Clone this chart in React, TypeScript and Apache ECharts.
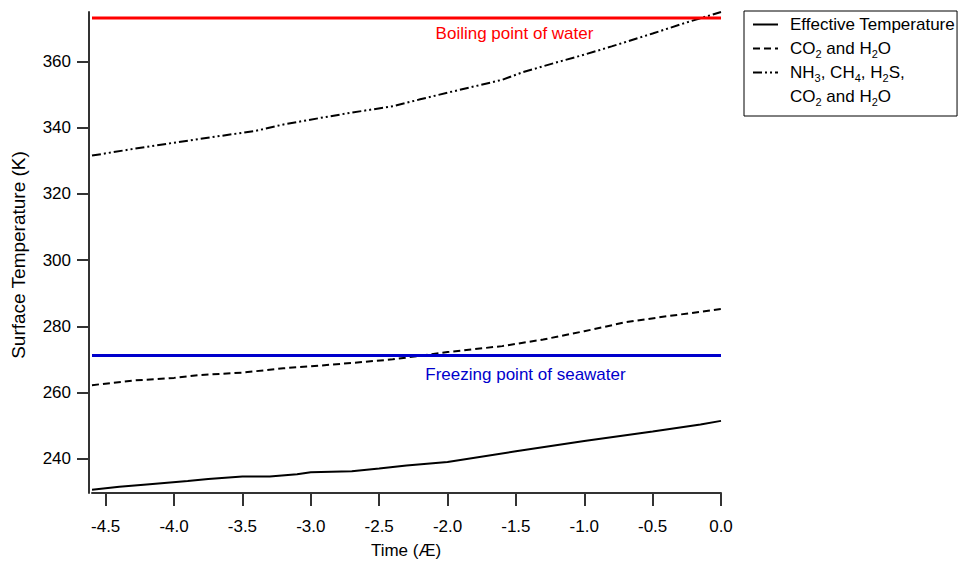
import React, { useEffect, useRef } from 'react';
import * as echarts from 'echarts';

const FONT = "'Liberation Sans', Arial, Helvetica, sans-serif";

// Axis ticks
const xTicks = [-4.5, -4.0, -3.5, -3.0, -2.5, -2.0, -1.5, -1.0, -0.5, 0.0];
const yTicks = [240, 260, 280, 300, 320, 340, 360];

// Effective temperature (solid)
const timeEff = [-4.6, -4.4, -4.2, -3.9, -3.75, -3.5, -3.3, -3.1, -3.0, -2.7, -2.5, -2.3, -2.0, -1.5, -1.0, -0.5, -0.15, 0.0];
const tempEff = [230.6, 231.5, 232.2, 233.2, 233.8, 234.6, 234.6, 235.3, 235.9, 236.2, 237.0, 237.9, 239.0, 242.2, 245.3, 248.2, 250.3, 251.4];

// CO2 and H2O (dashed)
const timeCO2 = [-4.6, -4.3, -4.0, -3.8, -3.5, -3.2, -3.0, -2.7, -2.4, -2.0, -1.6, -1.3, -1.0, -0.7, -0.4, 0.0];
const tempCO2 = [262.2, 263.6, 264.4, 265.3, 266.0, 267.3, 267.9, 268.9, 270.0, 272.2, 274.0, 276.0, 278.5, 281.2, 283.0, 285.2];

// NH3, CH4, H2S, CO2 and H2O (dash-dot-dot)
const timeNH3 = [-4.6, -4.3, -4.0, -3.7, -3.4, -3.2, -2.9, -2.7, -2.4, -2.2, -2.0, -1.6, -1.45, -1.2, -1.0, -0.8, -0.5, -0.27, 0.0];
const tempNH3 = [331.6, 333.6, 335.5, 337.3, 339.1, 341.0, 343.2, 344.6, 346.5, 348.6, 350.6, 354.5, 356.8, 359.8, 362.1, 364.6, 368.5, 371.6, 375.0];

// Reference levels (K)
const boilingPoint = 373.15;
const freezingPoint = 271.2;

const xMin = -4.6;
const xMax = 0;
const yMin = 229.6;
const yMax = 375;

const seriesNames = ['Effective Temperature', 'CO2 and H2O', 'NH3, CH4, H2S,', 'CO2 and H2O '];
const legendLabels: Record<string, string> = {
  'Effective Temperature': 'Effective Temperature',
  'CO2 and H2O': 'CO{s|2} and H{s|2}O',
  'NH3, CH4, H2S,': 'NH{s|3}, CH{s|4}, H{s|2}S,',
  'CO2 and H2O ': 'CO{s|2} and H{s|2}O',
};

const zip = (xs: number[], ys: number[]) => xs.map((x, i) => [x, ys[i]]);

const CLEAR = 'rgba(0,0,0,0)';

export default function App() {
  const ref = useRef<HTMLDivElement>(null);
  useEffect(() => {
    const chart = echarts.init(ref.current!, null, { renderer: 'svg' });
    const axisColor = '#333';
    chart.setOption({
      animation: false,
      backgroundColor: '#fff',
      textStyle: { fontFamily: FONT },
      grid: { left: 92, top: 12, width: 629, height: 481 },
      xAxis: {
        type: 'value',
        min: xMin,
        max: xMax,
        axisLine: { show: true, onZero: false, lineStyle: { color: axisColor, width: 2 } },
        axisTick: { show: true, customValues: xTicks, length: 13, lineStyle: { color: axisColor, width: 2 } },
        axisLabel: {
          customValues: xTicks,
          formatter: (v: number) => v.toFixed(1),
          margin: 25,
          fontSize: 17,
          fontFamily: FONT,
          color: '#000',
        },
        splitLine: { show: false },
      },
      yAxis: {
        type: 'value',
        min: yMin,
        max: yMax,
        offset: 3,
        axisLine: { show: true, onZero: false, lineStyle: { color: axisColor, width: 2 } },
        axisTick: { show: true, customValues: yTicks, length: 12, lineStyle: { color: axisColor, width: 2 } },
        axisLabel: {
          customValues: yTicks,
          formatter: (v: number) => String(v),
          margin: 18,
          fontSize: 17,
          fontFamily: FONT,
          color: '#000',
        },
        splitLine: { show: false },
      },
      legend: {
        orient: 'vertical',
        left: 744,
        top: 11,
        data: seriesNames.map((n) => ({ name: n })),
        itemWidth: 25,
        itemHeight: 20,
        itemGap: 3,
        padding: [3, 2, 9, 8],
        borderColor: '#000',
        borderWidth: 1,
        borderRadius: 0,
        selectedMode: false,
        itemStyle: { color: CLEAR, borderColor: CLEAR, borderWidth: 0, opacity: 0 },
        formatter: (n: string) => legendLabels[n] ?? n,
        textStyle: {
          fontFamily: FONT,
          fontSize: 17,
          color: '#000',
          lineHeight: 21,
          padding: [0, 0, 0, 7],
          rich: {
            s: { fontSize: 11, lineHeight: 21, verticalAlign: 'bottom', fontFamily: FONT, color: '#000' },
          },
        },
      },
      series: [
        {
          name: seriesNames[0],
          type: 'line',
          data: zip(timeEff, tempEff),
          symbol: 'none',
          lineStyle: { color: '#000', width: 2 },
          itemStyle: { color: CLEAR },
        },
        {
          name: seriesNames[1],
          type: 'line',
          data: zip(timeCO2, tempCO2),
          symbol: 'none',
          lineStyle: { color: '#000', width: 2, type: [7, 4] },
          itemStyle: { color: CLEAR },
        },
        {
          name: seriesNames[2],
          type: 'line',
          data: zip(timeNH3, tempNH3),
          symbol: 'none',
          lineStyle: { color: '#000', width: 2, type: [9, 3, 2, 3, 2, 3] },
          itemStyle: { color: CLEAR },
        },
        {
          name: seriesNames[3],
          type: 'line',
          data: [],
          symbol: 'none',
          lineStyle: { color: CLEAR, width: 0 },
          itemStyle: { color: CLEAR },
        },
        {
          name: 'boiling',
          type: 'line',
          data: [[xMin, boilingPoint], [xMax, boilingPoint]],
          symbol: 'none',
          silent: true,
          lineStyle: { color: '#ff0000', width: 3 },
          itemStyle: { color: '#ff0000' },
        },
        {
          name: 'freezing',
          type: 'line',
          data: [[xMin, freezingPoint], [xMax, freezingPoint]],
          symbol: 'none',
          silent: true,
          lineStyle: { color: '#0000cc', width: 3 },
          itemStyle: { color: '#0000cc' },
        },
      ],
      graphic: [
        {
          type: 'text',
          x: 514.5,
          y: 33.5,
          style: { text: 'Boiling point of water', fill: '#ff0000', font: `17px ${FONT}`, align: 'center', verticalAlign: 'middle' },
        },
        {
          type: 'text',
          x: 525.5,
          y: 374,
          style: { text: 'Freezing point of seawater', fill: '#0000cc', font: `17px ${FONT}`, align: 'center', verticalAlign: 'middle' },
        },
        {
          type: 'text',
          x: 18,
          y: 255,
          rotation: Math.PI / 2,
          style: { text: 'Surface Temperature (K)', fill: '#000', font: `19px ${FONT}`, align: 'center', verticalAlign: 'middle' },
        },
        {
          type: 'text',
          x: 406,
          y: 550,
          style: { text: 'Time (Æ)', fill: '#000', font: `17px ${FONT}`, align: 'center', verticalAlign: 'middle' },
        },
      ],
    });
    return () => chart.dispose();
  }, []);
  return <div ref={ref} style={{ position: 'fixed', left: 0, top: 0, width: 958, height: 571 }} />;
}
